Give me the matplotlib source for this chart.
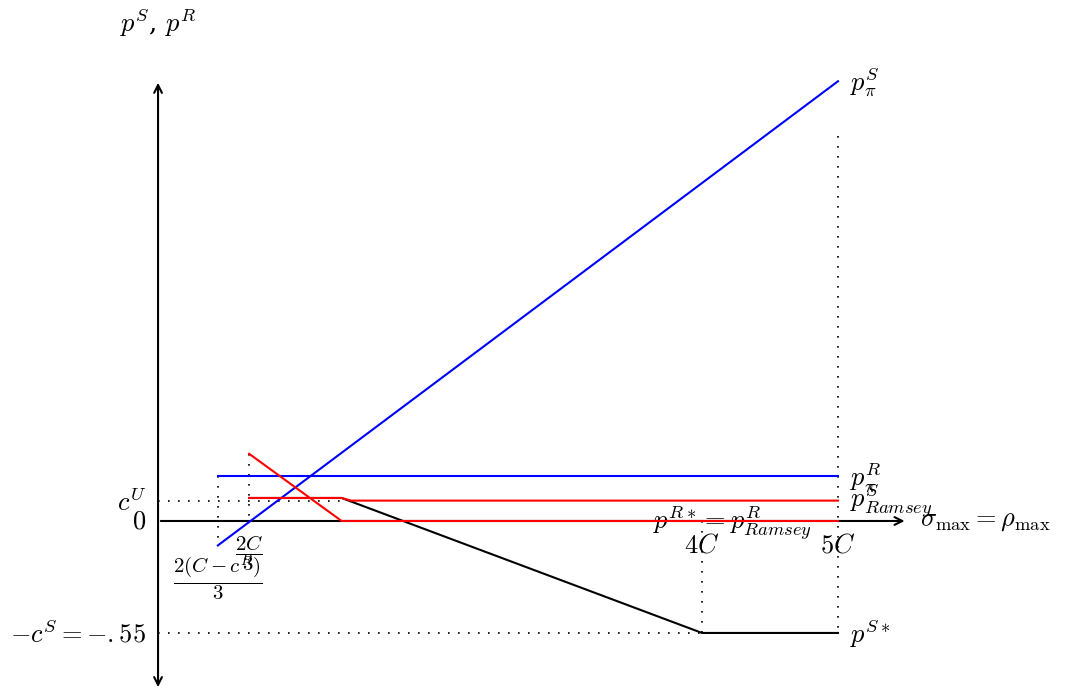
from matplotlib import pyplot as plt

plt.rcParams['mathtext.fontset'] = 'cm'
plt.rcParams['font.family'] = 'serif'
plt.rcParams['font.serif'] = ['DejaVu Serif']

# price schedules against sigma_max (in units of C)
c_s = 0.55
c_u = 0.10
x_lo = 0.44          # 2(C - c^R)/3
x_mid = 0.67         # 2C/3
x_kink = 1.35
x_star = 4.0
x_max = 5.0

p_pi_s_x = [x_lo, x_max]
p_pi_s_y = [-0.12, 2.16]
p_pi_r_x = [x_lo, x_max]
p_pi_r_y = [0.22, 0.22]
p_ram_r_x = [x_mid, x_kink, x_max]
p_ram_r_y = [0.33, 0.0, 0.0]
p_ram_s_x = [x_mid, x_kink, 1.42, x_max]
p_ram_s_y = [0.113, 0.113, c_u, c_u]
p_star_s_x = [x_mid, x_kink, x_star, x_max]
p_star_s_y = [0.113, 0.113, -c_s, -c_s]

fs = 19
dot = (0, (1, 5))

fig = plt.figure(figsize=(10.82, 6.92), dpi=100)
ax = fig.add_axes([0, 0, 1, 1])
ax.set_xlim(-1.162, 6.794)
ax.set_ylim(-0.84, 2.559)
ax.axis('off')

# axes with arrow heads
ax.annotate('', xy=(5.51, 0), xytext=(0, 0),
            arrowprops=dict(arrowstyle='->', lw=1.5, color='black', mutation_scale=14))
ax.annotate('', xy=(0, 2.166), xytext=(0, -0.83),
            arrowprops=dict(arrowstyle='<->', lw=1.5, color='black', mutation_scale=14))

# dotted guides
ax.plot([0, x_star], [-c_s, -c_s], color='black', lw=1.2, ls=dot)
ax.plot([0, x_kink], [c_u, c_u], color='black', lw=1.2, ls=dot)
ax.plot([x_lo, x_lo], [p_pi_r_y[0], p_pi_s_y[0]], color='black', lw=1.2, ls=dot)
ax.plot([x_mid, x_mid], [p_ram_r_y[0], 0], color='black', lw=1.2, ls=dot)
ax.plot([x_star, x_star], [0, -c_s], color='black', lw=1.2, ls=dot)
ax.plot([x_max, x_max], [1.89, -c_s], color='black', lw=1.2, ls=dot)

# schedules
ax.plot(p_star_s_x, p_star_s_y, color='black', lw=1.5, zorder=4)
ax.plot(p_pi_s_x, p_pi_s_y, color='blue', lw=1.5, zorder=5)
ax.plot(p_pi_r_x, p_pi_r_y, color='blue', lw=1.5, zorder=5)
ax.plot(p_ram_r_x, p_ram_r_y, color='red', lw=1.5, zorder=6)
ax.plot(p_ram_s_x, p_ram_s_y, color='red', lw=1.5, zorder=6)

# labels
ax.text(0, 2.45, r'$p^S$, $p^R$', fontsize=fs, ha='center', va='center')
ax.text(5.09, 2.156, r'$p^S_\pi$', fontsize=fs, ha='left', va='center')
ax.text(5.09, 0.216, r'$p^R_\pi$', fontsize=fs, ha='left', va='center')
ax.text(5.09, 0.103, r'$p^S_{Ramsey}$', fontsize=fs, ha='left', va='center')
ax.text(5.60, 0.0, r'$\sigma_{\max} = \rho_{\max}$', fontsize=fs, ha='left', va='center')
ax.text(4.22, -0.01, r'$p^{R*} = p^R_{Ramsey}$', fontsize=fs, ha='center', va='center')
ax.text(x_star, -0.118, r'$4C$', fontsize=fs, ha='center', va='center')
ax.text(x_max, -0.118, r'$5C$', fontsize=fs, ha='center', va='center')
ax.text(5.09, -c_s, r'$p^{S*}$', fontsize=fs, ha='left', va='center')
ax.text(-0.088, -c_s, r'$-c^S = -.55$', fontsize=fs, ha='right', va='center')
ax.text(-0.088, 0.0, r'$0$', fontsize=fs, ha='right', va='center')
ax.text(-0.088, 0.09, r'$c^U$', fontsize=fs, ha='right', va='center')
ax.text(x_mid, -0.16, r'$\dfrac{2C}{3}$', fontsize=15, ha='center', va='center')
ax.text(x_lo, -0.28, r'$\dfrac{2(C-c^R)}{3}$', fontsize=15, ha='center', va='center')

fig.savefig('out.png', dpi=100)
